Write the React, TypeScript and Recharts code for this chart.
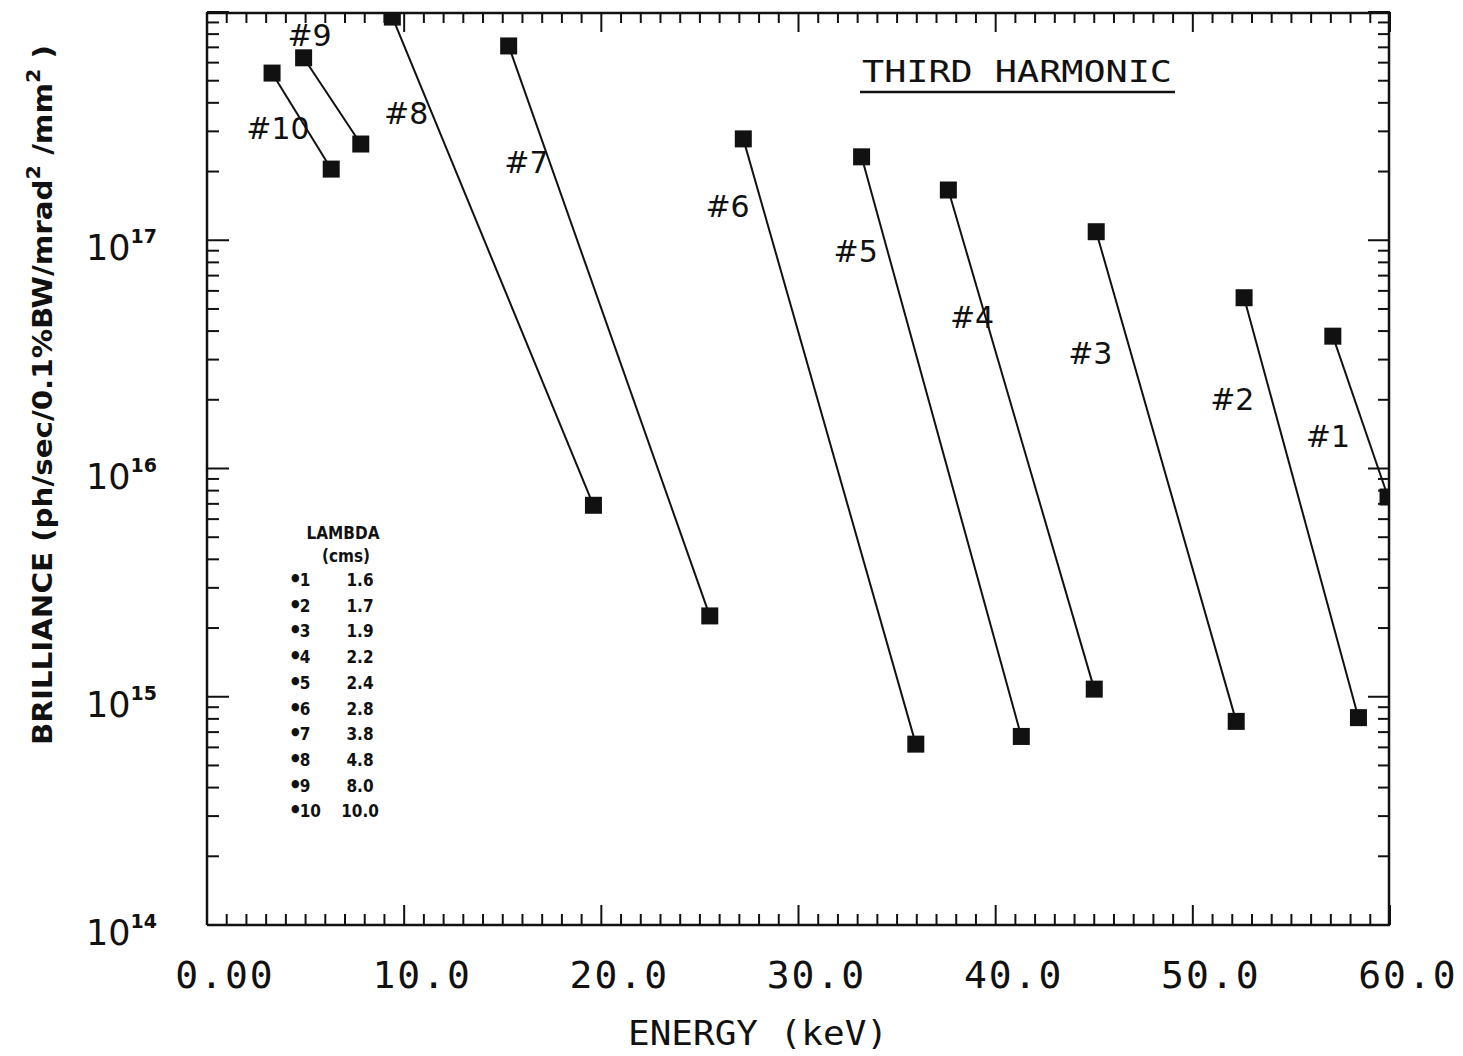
import React from 'react'
import { ComposedChart, Scatter, XAxis, YAxis } from 'recharts'

// undulator number, period (cm) and the two end points of each 3rd-harmonic tuning curve
const undulatorIds = ['#1', '#2', '#3', '#4', '#5', '#6', '#7', '#8', '#9', '#10']
const lambdaCms = ['1.6', '1.7', '1.9', '2.2', '2.4', '2.8', '3.8', '4.8', '8.0', '10.0']
const energyLow = [57.1, 52.6, 45.1, 37.6, 33.2, 27.2, 15.3, 9.4, 4.9, 3.3]
const brillLow = [3.8e16, 5.6e16, 1.09e17, 1.66e17, 2.32e17, 2.78e17, 7.1e17, 9.5e17, 6.3e17, 5.4e17]
const energyHigh = [59.9, 58.4, 52.2, 45.0, 41.3, 35.95, 25.5, 19.6, 7.8, 6.3]
const brillHigh = [7.5e15, 8.1e14, 7.8e14, 1.08e15, 6.7e14, 6.2e14, 2.26e15, 6.9e15, 2.64e17, 2.05e17]

// where the "#n" tags sit
const labelEnergy = [56.85, 52.0, 44.8, 38.8, 32.9, 26.4, 16.2, 10.1, 5.2, 3.6]
const labelBrill = [1.38e16, 2.0e16, 3.2e16, 4.6e16, 8.9e16, 1.4e17, 2.2e17, 3.6e17, 7.9e17, 3.1e17]

const xMajorTicks = [0, 10, 20, 30, 40, 50, 60]
const xMinorTicks = Array.from({ length: 61 }, (_, i) => i).filter(v => v % 10 !== 0)
const yLabelTicks = [1e14, 1e15, 1e16, 1e17]
const yMajorTicks = [1e14, 1e15, 1e16, 1e17, 1e18]
const yMinorTicks = [14, 15, 16, 17].flatMap(p => [2, 3, 4, 5, 6, 7, 8, 9].map(m => m * Math.pow(10, p)))

const xLabels = ['0.00', '10.0', '20.0', '30.0', '40.0', '50.0', '60.0']

const W = 1463
const H = 1056
const ink = '#111'

const curves = undulatorIds.map((id, i) => ({
  id,
  points: [
    { e: energyLow[i], b: brillLow[i] },
    { e: energyHigh[i], b: brillHigh[i] },
  ],
}))

const tags = undulatorIds.map((id, i) => ({ name: id, e: labelEnergy[i], b: labelBrill[i] }))

// pairs of tick-only axes; each needs a (hidden) series so recharts builds its scale
const tickAxisPairs = [
  ['bMin', 'lMin'],
  ['bMaj', 'lMaj'],
  ['tMin', 'rMin'],
  ['tMaj', 'rMaj'],
]

function XTick(props: any) {
  const { x, y, payload } = props
  const idx = xMajorTicks.indexOf(payload.value)
  return (
    <text x={x + 18} y={y + 63} textAnchor="middle" fontFamily="DejaVu Sans Mono" fontSize={38} letterSpacing={2} fill={ink}>
      {xLabels[idx]}
    </text>
  )
}

function YTick(props: any) {
  const { x, y, payload } = props
  const exp = Math.round(Math.log10(payload.value))
  return (
    <text x={x - 50} y={y + 20} textAnchor="end" fontFamily="DejaVu Sans" fontSize={35} fill={ink}>
      10
      <tspan dy={-17} fontSize={19} fontWeight="bold">{exp}</tspan>
    </text>
  )
}

function Marker(props: any) {
  const { cx, cy } = props
  return <rect x={cx - 8.5} y={cy - 8.5} width={17} height={17} fill={ink} />
}

function Tag(props: any) {
  const { cx, cy, payload } = props
  return (
    <text x={cx} y={cy} textAnchor="middle" dominantBaseline="central" fontFamily="DejaVu Sans" fontSize={30} fill={ink}>
      {payload.name}
    </text>
  )
}

const Nothing = () => <g />

const tickStroke = { stroke: ink, strokeWidth: 2 }
const axisStroke = { stroke: ink, strokeWidth: 2.5 }

// shared props for the axes that only carry inward tick marks
const tickOnly = { type: 'number' as const, allowDataOverflow: true, mirror: true, interval: 0, tick: <Nothing />, tickLine: tickStroke }

export default function App() {
  return (
    <div style={{ position: 'absolute', left: 0, top: 0, width: W, height: H, background: '#fff' }}>
      <ComposedChart width={W} height={H} margin={{ top: 12, right: 73, bottom: 31, left: 57 }}>
        <XAxis
          xAxisId={0}
          type="number"
          dataKey="e"
          domain={[0, 60]}
          ticks={xMajorTicks}
          interval={0}
          allowDataOverflow
          height={100}
          tickSize={0}
          tickMargin={0}
          tickLine={false}
          axisLine={axisStroke}
          tick={<XTick />}
        />
        <XAxis xAxisId="bMin" {...tickOnly} dataKey="e" domain={[0, 60]} ticks={xMinorTicks} orientation="bottom" height={1} tickSize={10} axisLine={false} />
        <XAxis xAxisId="bMaj" {...tickOnly} dataKey="e" domain={[0, 60]} ticks={xMajorTicks} orientation="bottom" height={1} tickSize={20} axisLine={false} />
        <XAxis xAxisId="tMin" {...tickOnly} dataKey="e" domain={[0, 60]} ticks={xMinorTicks} orientation="top" height={1} tickSize={10} axisLine={axisStroke} />
        <XAxis xAxisId="tMaj" {...tickOnly} dataKey="e" domain={[0, 60]} ticks={xMajorTicks} orientation="top" height={1} tickSize={20} axisLine={false} />
        <YAxis
          yAxisId={0}
          type="number"
          dataKey="b"
          scale="log"
          domain={[1e14, 1e18]}
          ticks={yLabelTicks}
          interval={0}
          allowDataOverflow
          width={150}
          tickSize={0}
          tickMargin={0}
          tickLine={false}
          axisLine={axisStroke}
          tick={<YTick />}
        />
        <YAxis yAxisId="lMin" {...tickOnly} dataKey="b" scale="log" domain={[1e14, 1e18]} ticks={yMinorTicks} orientation="left" width={1} tickSize={11} axisLine={false} />
        <YAxis yAxisId="lMaj" {...tickOnly} dataKey="b" scale="log" domain={[1e14, 1e18]} ticks={yMajorTicks} orientation="left" width={1} tickSize={22} axisLine={false} />
        <YAxis yAxisId="rMin" {...tickOnly} dataKey="b" scale="log" domain={[1e14, 1e18]} ticks={yMinorTicks} orientation="right" width={1} tickSize={11} axisLine={axisStroke} />
        <YAxis yAxisId="rMaj" {...tickOnly} dataKey="b" scale="log" domain={[1e14, 1e18]} ticks={yMajorTicks} orientation="right" width={1} tickSize={22} axisLine={false} />

        {tickAxisPairs.map(([xa, ya]) => (
          <Scatter
            key={xa + ya}
            xAxisId={xa}
            yAxisId={ya}
            data={tags}
            dataKey="b"
            shape={<Nothing />}
            legendType="none"
            isAnimationActive={false}
          />
        ))}

        {curves.map(c => (
          <Scatter
            key={c.id}
            name={c.id}
            data={c.points}
            dataKey="b"
            line={{ stroke: ink, strokeWidth: 2 }}
            shape={<Marker />}
            isAnimationActive={false}
          />
        ))}
        <Scatter name="tags" data={tags} dataKey="b" shape={<Tag />} isAnimationActive={false} />
      </ComposedChart>

      <svg width={W} height={H} style={{ position: 'absolute', left: 0, top: 0, pointerEvents: 'none' }}>
        <text x={862} y={82} fontFamily="DejaVu Sans Mono" fontSize={31} textLength={310} lengthAdjust="spacingAndGlyphs" fill={ink}>
          THIRD HARMONIC
        </text>
        <line x1={860} y1={92} x2={1175} y2={92} stroke={ink} strokeWidth={2.5} />

        <text x={628} y={1045} fontFamily="DejaVu Sans Mono" fontSize={33} textLength={260} lengthAdjust="spacingAndGlyphs" fill={ink}>
          ENERGY (keV)
        </text>

        <text
          transform="translate(52, 745) rotate(-90)"
          fontFamily="Liberation Sans Narrow, DejaVu Sans Condensed"
          fontWeight="bold"
          fontSize={27}
          textLength={700}
          lengthAdjust="spacingAndGlyphs"
          fill={ink}
        >
          BRILLIANCE (ph/sec/0.1%BW/mrad<tspan dy={-12} fontSize={19}>2</tspan><tspan dy={12}> /mm</tspan><tspan dy={-12} fontSize={19}>2</tspan><tspan dy={12}> )</tspan>
        </text>

        <g fontFamily="Liberation Sans Narrow, DejaVu Sans Condensed" fontWeight="bold" fontSize={17} fill={ink}>
          <text x={343} y={539} textAnchor="middle">LAMBDA</text>
          <text x={346} y={562} textAnchor="middle">(cms)</text>
          {undulatorIds.map((id, i) => (
            <g key={id}>
              <text x={291} y={586 + i * 25.7}>
                <tspan fontSize={11} dy={-5}>●</tspan>
                <tspan dy={5}>{id.slice(1)}</tspan>
              </text>
              <text x={360} y={586 + i * 25.7} textAnchor="middle">{lambdaCms[i]}</text>
            </g>
          ))}
        </g>
      </svg>
    </div>
  )
}
